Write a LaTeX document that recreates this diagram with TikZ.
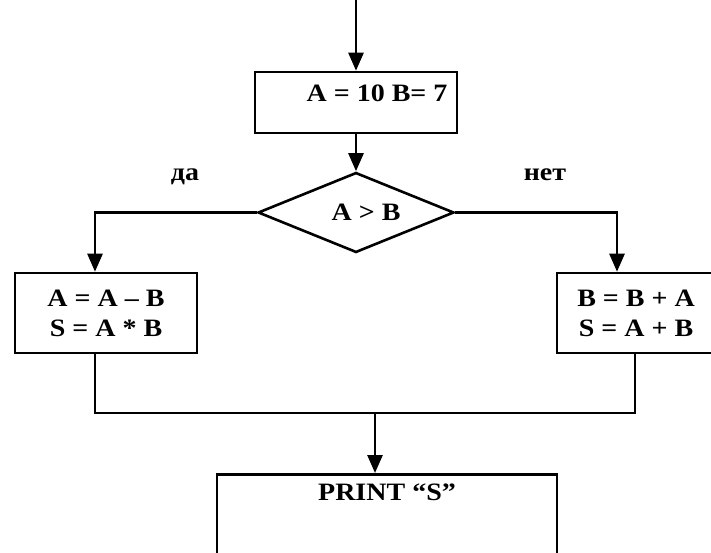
\documentclass[tikz,border=0pt]{standalone}
\usepackage{fontspec}
\setmainfont[FakeStretch=1.12]{Liberation Serif}
\usetikzlibrary{shapes.geometric,arrows.meta}
\begin{document}
\begin{tikzpicture}[>={Triangle[length=9pt,width=7.5pt]}, x=0.5pt, y=-0.5pt,
  line width=1.3pt, font=\bfseries\fontsize{12.5}{15}\selectfont,
  blok/.style={draw, rectangle, inner sep=0pt, align=center},
  uslovie/.style={draw, diamond, aspect=2.5, inner sep=0pt,
    minimum width=98pt, minimum height=40pt}]

  % рамка
  \useasboundingbox (0,0) rectangle (711,552);
  \clip (0,0) rectangle (711,552);

  % блоки
  \node[blok, minimum width=101pt, minimum height=30.5pt] (init) at (356,102.5) {};
  \node (initt) at (377,93) {A = 10 B= 7};
  \node[uslovie] (cond) at (356,212.5) {};
  \node (condt) at (366,212.5) {A > B};
  \node[blok, minimum width=91pt, minimum height=40pt] (yes) at (106,313) {A = A – B\\S = A * B};
  \node[blok, minimum width=79pt, minimum height=40pt] (no) at (636,313) {B = B + A\\S = A + B};
  \node[blok, minimum width=170pt, minimum height=55pt, anchor=north] (print) at (387,473) {};
  \node (printt) at (387,492) {PRINT “S”};

  % подписи ветвей
  \node (da) at (185,177) {да};
  \node (net) at (545,175) {нет};

  % точки изломов
  \coordinate (start) at (356,0);
  \coordinate (yesin) at (95,212.5);
  \coordinate (noin) at (617,212.5);
  \coordinate (joinl) at (95,413);
  \coordinate (joinr) at (635,413);
  \coordinate (join) at (375,413);

  % стрелки
  \draw[->] (start) -- (init.north);
  \draw[->] (init.south) -- (cond.north);
  \draw[->] (cond.west) -- (yesin) -- (yesin |- yes.north);
  \draw[->] (cond.east) -- (noin) -- (noin |- no.north);
  \draw (joinl |- yes.south) -- (joinl) -- (joinr) -- (joinr |- no.south);
  \draw[->] (join) -- (join |- print.north);

\end{tikzpicture}
\end{document}
